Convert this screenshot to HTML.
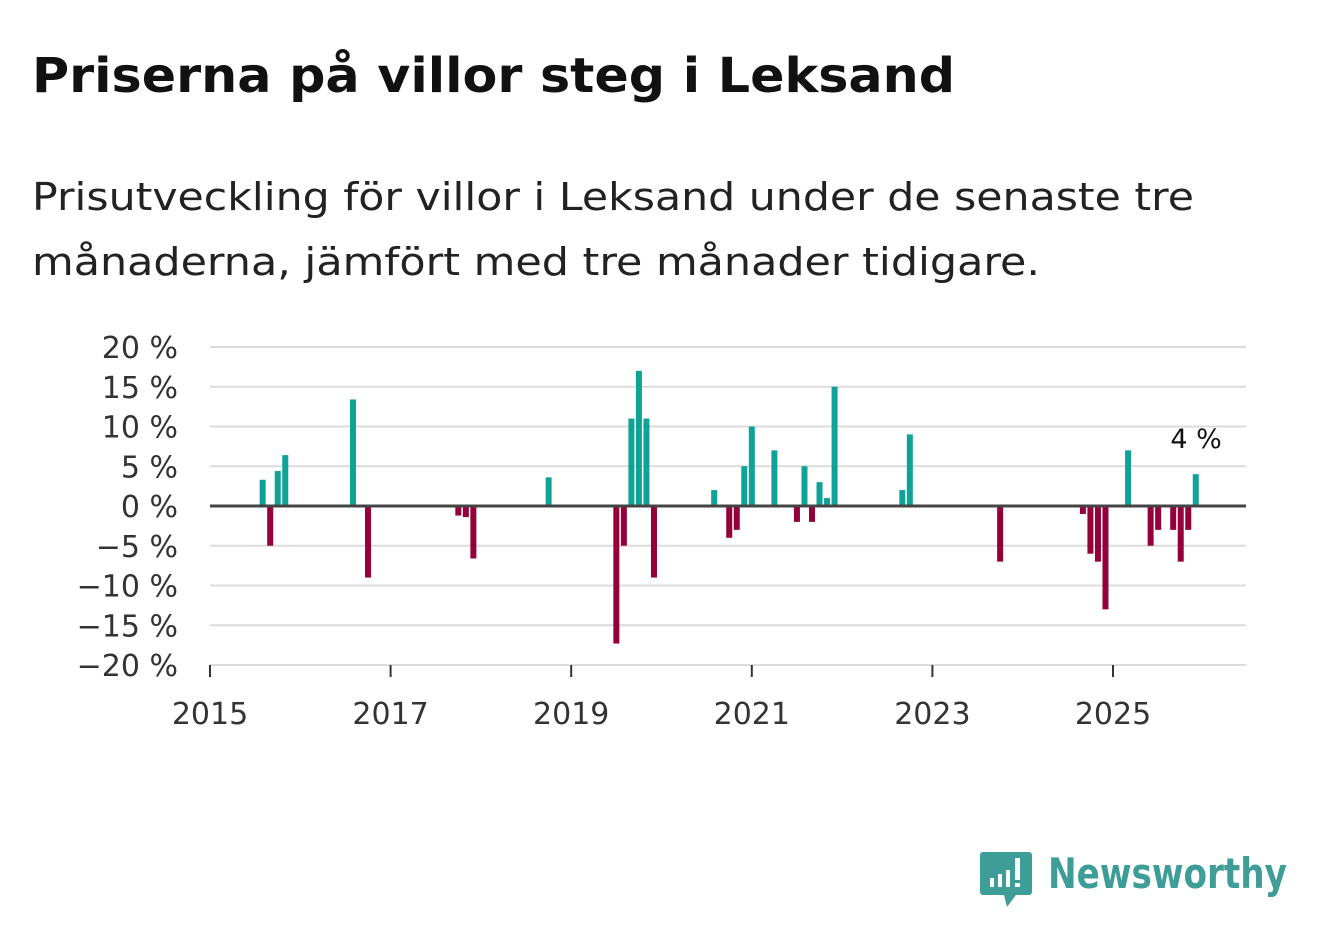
<!DOCTYPE html>
<html><head><meta charset="utf-8">
<style>
body{margin:0;background:#fff;width:1322px;height:939px;overflow:hidden;font-family:"DejaVu Sans","Liberation Sans",sans-serif;}
svg text{font-family:"DejaVu Sans","Liberation Sans",sans-serif;}
</style></head>
<body>
<svg width="1322" height="939">
<text x="32" y="92" font-size="48" font-weight="bold" fill="#111" textLength="923" lengthAdjust="spacingAndGlyphs">Priserna på villor steg i Leksand</text>
<text x="32" y="210" font-size="38" fill="#222" textLength="1162" lengthAdjust="spacingAndGlyphs">Prisutveckling för villor i Leksand under de senaste tre</text>
<text x="32" y="275" font-size="38" fill="#222" textLength="1008" lengthAdjust="spacingAndGlyphs">månaderna, jämfört med tre månader tidigare.</text>
<g id="grid"></g>
<g id="bars"></g>
<g id="axes"></g>
<g>
<path d="M983 852 h46 a3 3 0 0 1 3 3 v37 a3 3 0 0 1 -3 3 h-13 l-9 12 l-3 -12 h-21 a3 3 0 0 1 -3 -3 v-37 a3 3 0 0 1 3 -3z" fill="#3f9d98"/>
<rect x="990" y="878" width="4" height="9" fill="#fff"/>
<rect x="998" y="874" width="4" height="13" fill="#fff"/>
<rect x="1006" y="870" width="4" height="17" fill="#fff"/>
<rect x="1015" y="858" width="5" height="22" fill="#fff"/>
<rect x="1015" y="883" width="5" height="4" fill="#fff"/>
<text x="1048" y="888" font-size="42" font-weight="bold" fill="#3f9d98" textLength="239" lengthAdjust="spacingAndGlyphs">Newsworthy</text>
</g>
</svg>
<script>
const months=[7,8,9,10,19,21,33,34,35,45,54,55,56,57,58,59,67,69,70,71,72,75,78,79,80,81,82,83,92,93,105,116,117,118,119,122,125,126,128,129,130,131];
const values=[3.3,-5,4.4,6.4,13.4,-9,-1.2,-1.4,-6.6,3.6,-17.3,-5,11,17,11,-9,2,-4,-3,5,10,7,-2,5,-2,3,1,15,2,9,-7,-1,-6,-7,-13,7,-5,-3,-3,-7,-3,4];
const yTicks=[20,15,10,5,0,-5,-10,-15,-20];
const yTickLabels=["20 %","15 %","10 %","5 %","0 %","−5 %","−10 %","−15 %","−20 %"];
const xTicks=[2015,2017,2019,2021,2023,2025];
const NS='http://www.w3.org/2000/svg';
const y=v=>506-v*7.95;
const x=m=>210+m*7.525;
function mk(t,a,p){const e=document.createElementNS(NS,t);for(const k in a)e.setAttribute(k,a[k]);p.appendChild(e);return e;}
const grid=document.getElementById('grid'),bars=document.getElementById('bars'),axes=document.getElementById('axes');
yTicks.forEach((v,i)=>{
  if(v!==0){const l=mk('line',{x1:210,x2:1246,y1:y(v),y2:y(v),stroke:'#dcdcdc','stroke-width':2},grid);
  
  }
  const t=mk('text',{x:178,y:y(v)+11,'font-size':30,fill:'#333','text-anchor':'end'},axes);
  t.textContent=yTickLabels[i];
  
  
});
const bl=mk('line',{x1:210,x2:1246,y1:665,y2:665,stroke:'#dcdcdc','stroke-width':1},grid);


months.forEach((m,i)=>{
  const v=values[i];
  const r=mk('rect',{x:x(m)-3,y:v>0?y(v):y(0),width:6,height:Math.abs(v)*7.95,fill:v>0?'#0fa398':'#96003a'},bars);
  
  
});
const z=mk('line',{x1:210,x2:1246,y1:506,y2:506,stroke:'#444','stroke-width':3},axes);


xTicks.forEach(yr=>{
  const px=x((yr-2015)*12);
  const tk=mk('line',{x1:px,x2:px,y1:665,y2:677,stroke:'#333','stroke-width':2},axes);
  
  
  const t=mk('text',{x:px,y:724,'font-size':30,fill:'#333','text-anchor':'middle'},axes);
  t.textContent=yr;
  
  
});
const li=months.length-1;
const lab=mk('text',{x:x(months[li])+26,y:y(values[li])-26,'font-size':27,fill:'#111','text-anchor':'end'},axes);
lab.textContent=Math.round(values[li])+' %';


</script>
</body></html>
